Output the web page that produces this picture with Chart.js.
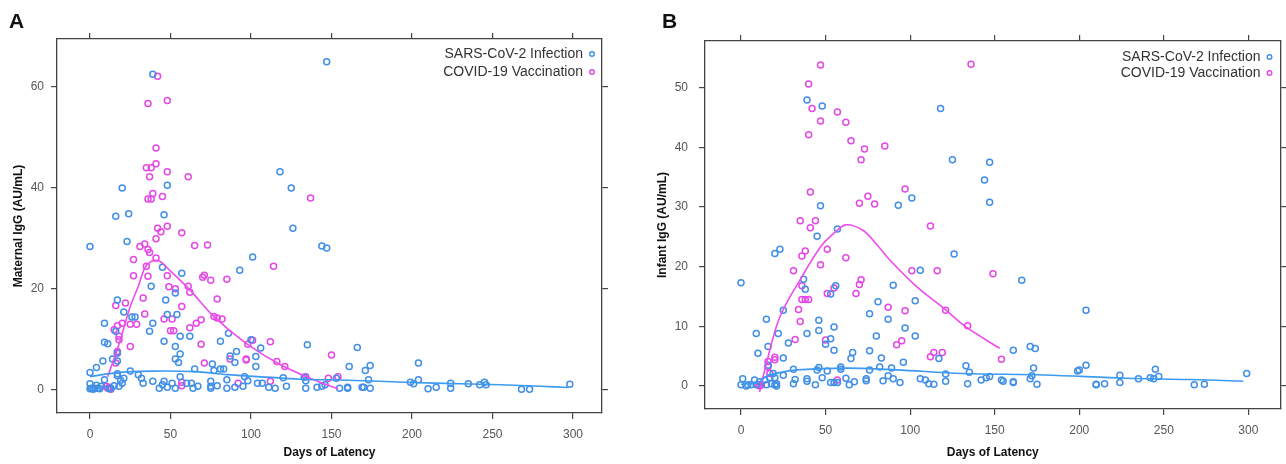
<!DOCTYPE html>
<html>
<head>
<meta charset="utf-8">
<script src="https://cdn.jsdelivr.net/npm/chart.js@4.4.1/dist/chart.umd.min.js"></script>
<style>
  html, body { margin: 0; padding: 0; background: #fff; }
  #wrap { position: relative; width: 1286px; height: 464px; overflow: hidden; }
  canvas { position: absolute; top: 0; }
  .tag { position: absolute; top: 9px; font: bold 21px "Liberation Sans", Arial, sans-serif; color: #111; line-height: 24px; }
</style>
</head>
<body>
<div id="wrap">
  <canvas id="chartA" width="640" height="464" style="left:0"></canvas>
  <canvas id="chartB" width="646" height="464" style="left:640px"></canvas>
  <div class="tag" style="left:9px">A</div>
  <div class="tag" style="left:662px">B</div>
</div>
<script>
// tick labels
const xTicks = [0, 50, 100, 150, 200, 250, 300];
const yTicksA = [0, 20, 40, 60];
const yTicksB = [0, 10, 20, 30, 40, 50];

// panel A - maternal IgG, [days, AU/mL]
const maternalInfection = [
  [0,28.4],[147,65],[39,62.5],[20,40],[16,34.4],[24,34.9],[23,29.4],[48,40.5],[46,34.7],[45,24.3],
  [118,43.2],[125,40],[126,32],[144,28.5],[147,28.1],[101,26.3],[93,23.7],[57,23.1],[38,20.5],[47,17.8],
  [53,19.2],[17,17.8],[21,15.4],[26,14.4],[28,14.4],[39,13.2],[37,11.6],[9,13.2],[16,11.6],[48,14.9],
  [54,14.9],[56,10.6],[62,10.6],[46,9.6],[53,8.6],[86,11.2],[81,9.6],[100,9.9],[106,8.3],[135,8.9],
  [166,8.4],[9,9.4],[11,9.1],[8,5.7],[4,4.4],[0,3.4],[17,5.7],[14,6.1],[17,7.3],[53,6.1],
  [55,5.4],[56,7.1],[91,7.6],[90,5.4],[87,6.7],[103,6.6],[103,4.6],[161,4.6],[171,3.8],[174,4.8],
  [204,5.3],[76,5.1],[77,3.8],[81,4.1],[83,4.1],[65,4.1],[25,3.7],[30,3.0],[32,2.3],[17,3.2],
  [17,2.8],[96,2.6],[98,1.8],[120,2.4],[133,2.5],[134,1.8],[153,2.3],[173,2.0],[204,2.0],[199,1.5],
  [201,1.2],[224,1.3],[235,1.2],[242,1.0],[245,1.5],[246,1.0],[298,1.1],[268,0.1],[273,0.1],[210,0.2],
  [215,0.5],[224,0.3],[160,0.5],[160,0.3],[155,0.3],[169,0.5],[170,0.5],[174,0.3],[141,0.5],[144,0.7],
  [146,1.0],[134,0.3],[122,0.7],[115,0.3],[111,0.5],[107,1.3],[104,1.3],[95,0.7],[90,0.5],[85,0.3],
  [79,0.8],[75,0.3],[75,0.7],[67,0.7],[64,0.3],[63,1.3],[60,1.3],[56,2.6],[53,0.3],[51,1.3],
  [48,0.5],[46,1.7],[45,1.0],[43,0.3],[39,1.7],[33,1.3],[20,1.3],[18,0.7],[13,0.3],[5,0.3],
  [3,0.3],[1,0.3],[0,1.2],[7,0.7],[9,2.0],[21,2.3],[75,1.7],[85,2.0],[2,0.1],[6,0.2],
  [4,0.9],[12,0.2],[15,0.8],[19,1.9],[0,0.2]
];
const maternalVaccination = [
  [42,62.1],[36,56.7],[48,57.3],[41,47.9],[35,44],[38,44],[41,44.8],[48,43.2],[37,42.2],[61,42.2],
  [39,38.9],[36,37.8],[38,37.8],[45,38.3],[137,38],[42,32],[48,32.4],[44,31.3],[57,31.1],[41,29.9],
  [34,28.9],[31,28.4],[65,28.6],[73,28.7],[36,27.8],[37,27.2],[41,26.1],[27,25.8],[35,24.5],[114,24.5],
  [27,22.6],[36,22.5],[48,22.6],[71,22.7],[70,22.3],[75,21.7],[85,21.9],[49,20.4],[61,20.5],[62,19.3],
  [53,20],[33,18.2],[79,18],[16,16.7],[22,17.2],[57,16.5],[34,15],[15,11.9],[17,12.7],[20,13.2],
  [25,13],[29,13],[46,14],[51,14],[77,14.5],[79,14.2],[82,14],[69,13.9],[66,13.2],[62,12.3],
  [50,11.7],[52,11.7],[69,9],[112,9.5],[101,9.8],[98,9],[18,10.6],[25,8.6],[18,9.9],[17,7.6],
  [17,7.3],[150,6.9],[97,6.1],[97,5.9],[87,6.1],[71,5.3],[116,5.6],[121,4.6],[16,5.3],[154,2.6],
  [134,2.6],[10,0.7],[11,0.3],[13,0.1],[12,0.5],[57,0.8],[92,1.3],[112,1.7],[57,1.5],[148,2.3]
];
const maternalInfectionFit = [
  [0,2.6],[12,3.2],[20,3.5],[40,3.7],[65,3.6],[85,3.0],[110,2.5],[130,2.1],[160,1.9],[199,1.45],
  [230,1.2],[255,1.0],[280,0.7],[297,0.45]
];
const maternalVaccinationFit = [
  [11,2.6],[18,9],[25,16.5],[30,20.5],[34,24.1],[38,25.4],[43,25.5],[50,23.5],[62,19.8],[77,14.5],
  [97,9.2],[118,5.0],[139,2.0],[154,0.2]
];

// panel B - infant IgG, [days, AU/mL]
const infantInfection = [
  [0,17.3],[39,47.9],[48,46.9],[118,46.5],[125,37.9],[147,37.5],[144,34.5],[147,30.8],[47,30.2],[93,30.3],
  [101,31.5],[45,25.1],[57,26.3],[23,22.9],[20,22.2],[126,22.1],[106,19.4],[166,17.7],[37,17.9],[38,16.2],
  [56,16.8],[53,15.4],[90,16.9],[81,14.1],[103,14.3],[76,12.1],[87,11.2],[15,11.2],[25,12.7],[204,12.7],
  [9,8.8],[22,8.8],[39,8.8],[46,9.3],[46,11],[53,7.9],[50,7],[55,9.9],[28,7.2],[10,5.5],
  [16,6.6],[25,4.7],[80,8.4],[103,8.4],[97,9.7],[55,6],[66,5.6],[65,4.6],[76,5.9],[83,4.7],
  [96,4],[117,4.6],[161,6],[171,6.6],[174,6.3],[204,3.5],[200,2.7],[199,2.5],[173,3],[245,2.8],
  [299,2.1],[224,1.8],[235,1.2],[242,1.4],[244,1.2],[247,1.6],[133,3.4],[135,2.3],[121,2],[121,0.8],
  [142,1],[145,1.4],[147,1.6],[154,1],[155,0.8],[161,0.7],[161,0.6],[171,1.2],[172,1.7],[175,0.3],
  [210,0.2],[210,0.3],[215,0.4],[224,0.6],[268,0.2],[274,0.3],[134,0.4],[111,0.4],[114,0.3],[106,1.2],
  [109,1],[94,0.6],[90,1.2],[87,1.7],[84,0.9],[89,3],[82,3.2],[76,2.7],[74,1.2],[74,0.9],
  [67,0.7],[64,0.2],[62,1.3],[59,3.2],[59,2.8],[55,0.6],[53,0.6],[51,2.5],[48,1.4],[46,3.1],
  [45,2.7],[44,0.2],[39,1.2],[39,0.8],[31,2.8],[31,0.4],[32,1.1],[25,1.8],[21,0.4],[20,1.4],
  [19,2.1],[16,3.5],[17,1.4],[14,1],[11,0.7],[8,1],[1,1.2],[0,0.2],[3,0],[4,0.2],
  [6,0.2],[9,0.2],[15,0.2],[18,0.4],[20,0.2],[21,0],[57,0.6]
];
const infantVaccination = [
  [47,53.8],[136,53.9],[40,50.6],[42,46.5],[47,44.4],[57,45.9],[62,44.2],[40,42.1],[65,41.1],[73,39.7],
  [71,37.9],[85,40.2],[41,32.5],[97,33],[75,31.8],[70,30.6],[79,30.5],[35,27.7],[44,27.7],[41,26.5],
  [112,26.8],[51,22.9],[38,22.6],[36,21.8],[62,21.5],[47,20.3],[31,19.3],[101,19.3],[116,19.3],[149,18.8],
  [36,16.8],[70,17],[71,17.8],[55,16.4],[51,15.5],[36,14.5],[38,14.5],[40,14.5],[68,15.5],[34,12.8],
  [35,10.8],[87,13.2],[97,12.6],[121,12.7],[134,10.1],[32,7.8],[50,7.7],[95,7.6],[92,6.9],[112,4.9],
  [114,5.6],[119,5.6],[154,4.5],[16,3.2],[20,4.4],[20,4.8],[16,4.1],[11,0],[10,0.2],[12,0.2],
  [57,1],[17,2.1]
];
const infantInfectionFit = [
  [0,0.3],[10,0.6],[15,1.6],[22,2.2],[33,2.7],[62,3.0],[92,2.7],[131,2.1],[179,1.85],[228,1.3],
  [265,1.1],[297,0.8]
];
const infantVaccinationFit = [
  [11,-1.0],[15,3.8],[23,11.6],[36,18.3],[47,23.3],[55,25.6],[62,27],[72,26.1],[80,23.8],[88,21.1],
  [104,16.6],[120,13],[133,9.9],[153,6.3]
];

const blue = '#418fe6';
const magenta = '#e548e5';
const axisColor = '#444';
const tickFont = { family: '"Liberation Sans", Arial, sans-serif', size: 12 };
const titleFont = { family: '"Liberation Sans", Arial, sans-serif', size: 12, weight: 'bold' };

const toXY = arr => arr.map(p => ({ x: p[0], y: p[1] }));

// legend in the top right corner of the plot, marker after the text
const cornerLegend = {
  id: 'cornerLegend',
  afterDraw(chart, args, opts) {
    const { ctx, chartArea } = chart;
    ctx.save();
    ctx.font = '14px "Liberation Sans", Arial, sans-serif';
    ctx.textAlign = 'right';
    ctx.textBaseline = 'middle';
    chart.data.datasets.filter(d => d.inLegend).forEach((d, i) => {
      const y = chartArea.top + opts.top + i * opts.gap;
      ctx.fillStyle = '#333';
      ctx.fillText(d.label, chartArea.right - opts.textRight, y);
      ctx.beginPath();
      ctx.arc(chartArea.right - opts.markRight, y, 2.3, 0, Math.PI * 2);
      ctx.strokeStyle = d.borderColor;
      ctx.lineWidth = 1.4;
      ctx.stroke();
    });
    ctx.restore();
  }
};

const fixSize = size => scale => {
  if (scale.isHorizontal()) scale.height = size; else scale.width = size;
};

const makeChart = (id, infection, vaccination, infectionFit, vaccinationFit, cfg) => {
  const edge = (ticks, size) => ({
    min: ticks === xTicks ? cfg.xMin : cfg.yMin,
    max: ticks === xTicks ? cfg.xMax : cfg.yMax,
    afterBuildTicks: s => { s.ticks = ticks.map(v => ({ value: v })); },
    afterFit: fixSize(size),
    border: { display: true, color: axisColor, width: 1.3 },
    grid: { drawOnChartArea: false, drawTicks: true, tickLength: 6, color: axisColor, lineWidth: 1.2 },
    ticks: { display: false }
  });

  return new Chart(document.getElementById(id), {
    type: 'scatter',
    data: {
      datasets: [
        { label: 'SARS-CoV-2 Infection', inLegend: true, data: toXY(infection), borderColor: blue,
          backgroundColor: 'rgba(0,0,0,0)', pointRadius: 3, borderWidth: 1.5, order: 2 },
        { label: 'COVID-19 Vaccination', inLegend: true, data: toXY(vaccination), borderColor: magenta,
          backgroundColor: 'rgba(0,0,0,0)', pointRadius: 3, borderWidth: 1.5, order: 2 },
        { label: 'Infection fit', data: toXY(infectionFit), showLine: true, pointRadius: 0,
          borderColor: '#3d9af2', borderWidth: 1.6, tension: 0.35, order: 1 },
        { label: 'Vaccination fit', data: toXY(vaccinationFit), showLine: true, pointRadius: 0,
          borderColor: '#ee4cee', borderWidth: 1.6, tension: 0.35, order: 1 }
      ]
    },
    options: {
      responsive: false,
      animation: false,
      layout: { padding: 0 },
      plugins: {
        legend: { display: false },
        tooltip: { enabled: false },
        cornerLegend: cfg.legend
      },
      scales: {
        x: {
          ...edge(xTicks, cfg.bottom),
          position: 'bottom',
          ticks: { display: true, font: tickFont, color: '#555', padding: 8, maxRotation: 0, autoSkip: false },
          title: { display: true, text: 'Days of Latency', font: titleFont, color: '#111', padding: { top: 0, bottom: 4 } }
        },
        xTop: { ...edge(xTicks, cfg.top), position: 'top' },
        y: {
          ...edge(cfg.yTicks, cfg.left),
          position: 'left',
          ticks: { display: true, font: tickFont, color: '#555', padding: cfg.yPad, autoSkip: false },
          title: { display: true, text: cfg.yTitle, font: titleFont, color: '#111', padding: { top: cfg.titlePad, bottom: 0 } }
        },
        yRight: { ...edge(cfg.yTicks, cfg.right), position: 'right' }
      }
    },
    plugins: [cornerLegend]
  });
};

makeChart('chartA', maternalInfection, maternalVaccination, maternalInfectionFit, maternalVaccinationFit, {
  xMin: -20.5, xMax: 318, yMin: -4.6, yMax: 69.5, yTicks: yTicksA,
  left: 57, right: 38, top: 39, bottom: 51, yPad: 7, titlePad: 11,
  yTitle: 'Maternal IgG (AU/mL)',
  legend: { top: 15, gap: 18, textRight: 19, markRight: 10 }
});

makeChart('chartB', infantInfection, infantVaccination, infantInfectionFit, infantVaccinationFit, {
  xMin: -21.3, xMax: 319, yMin: -3.85, yMax: 57.8, yTicks: yTicksB,
  left: 65, right: 5, top: 41, bottom: 55, yPad: 11, titlePad: 15,
  yTitle: 'Infant IgG (AU/mL)',
  legend: { top: 16, gap: 16, textRight: 20, markRight: 11 }
});
</script>
</body>
</html>
